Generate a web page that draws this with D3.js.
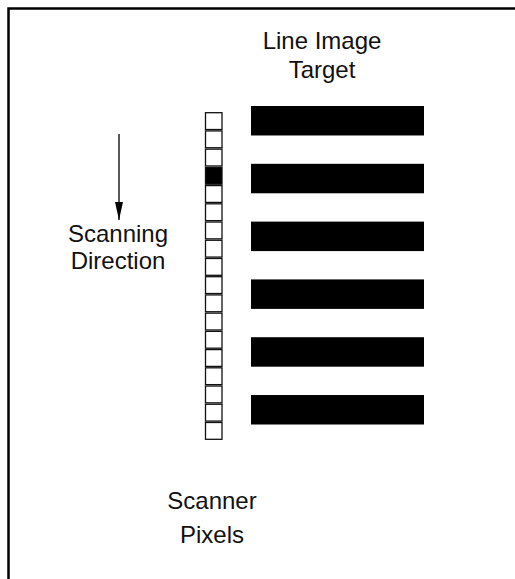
<!DOCTYPE html>
<html lang="en">
<head>
<meta charset="UTF-8">
<title>Line Image Target</title>
<script src="https://d3js.org/d3.v7.min.js"></script>
<style>
  body { margin: 0; background: #fff; }
  text { font-family: "Liberation Sans", Arial, sans-serif; fill: #111; }
</style>
</head>
<body>
<div id="chart"></div>
<script>
// target lines (black bars) and scanner pixel states (1 = dark pixel)
const targetLines = [1, 2, 3, 4, 5, 6];
const pixelStates = [0, 0, 0, 1, 0, 0, 0, 0, 0, 0, 0, 0, 0, 0, 0, 0, 0, 0];
const targetLabel = ["Line Image", "Target"];
const directionLabel = ["Scanning", "Direction"];
const pixelLabel = ["Scanner", "Pixels"];

const W = 515, H = 579;
const svg = d3.select("#chart").append("svg")
  .attr("width", W).attr("height", H);

// frame: top and left edges only
svg.append("path")
  .attr("d", "M8.5," + H + " V8.5 H" + W)
  .attr("fill", "none").attr("stroke", "#000").attr("stroke-width", 2.5);

// bars
const yBar = d3.scaleBand()
  .domain(targetLines)
  .range([106, 424.5])
  .paddingInner(0.49)
  .paddingOuter(0);

svg.append("g").selectAll("rect")
  .data(targetLines)
  .join("rect")
    .attr("x", 251)
    .attr("y", d => yBar(d))
    .attr("width", 173)
    .attr("height", yBar.bandwidth())
    .attr("fill", "#000");

// scanner pixels
const yPix = d3.scaleBand()
  .domain(d3.range(pixelStates.length))
  .range([112, 440]);

svg.append("g").selectAll("rect")
  .data(pixelStates)
  .join("rect")
    .attr("x", 205.5)
    .attr("y", (d, i) => yPix(i) + 0.7)
    .attr("width", 16.5)
    .attr("height", yPix.bandwidth() - 1.4)
    .attr("fill", d => d ? "#000" : "#fff")
    .attr("stroke", "#111")
    .attr("stroke-width", 1.3);

// arrow
svg.append("defs").append("marker")
  .attr("id", "head")
  .attr("viewBox", "0 0 18 10")
  .attr("refX", 18).attr("refY", 5)
  .attr("markerWidth", 18).attr("markerHeight", 10)
  .attr("markerUnits", "userSpaceOnUse")
  .attr("orient", "auto")
  .append("path").attr("d", "M0,1 L18,5 L0,9 Z").attr("fill", "#000");

svg.append("line")
  .attr("x1", 119).attr("y1", 134)
  .attr("x2", 119).attr("y2", 220)
  .attr("stroke", "#000").attr("stroke-width", 1.3)
  .attr("marker-end", "url(#head)");

// labels
function block(lines, cx, y0, dy) {
  svg.append("g").selectAll("text")
    .data(lines)
    .join("text")
      .attr("x", cx)
      .attr("y", (d, i) => y0 + i * dy)
      .attr("text-anchor", "middle")
      .attr("font-size", 24)
      .text(d => d);
}
block(targetLabel, 322, 49, 29);
block(directionLabel, 118, 242, 27);
block(pixelLabel, 212, 509, 34);
</script>
</body>
</html>
